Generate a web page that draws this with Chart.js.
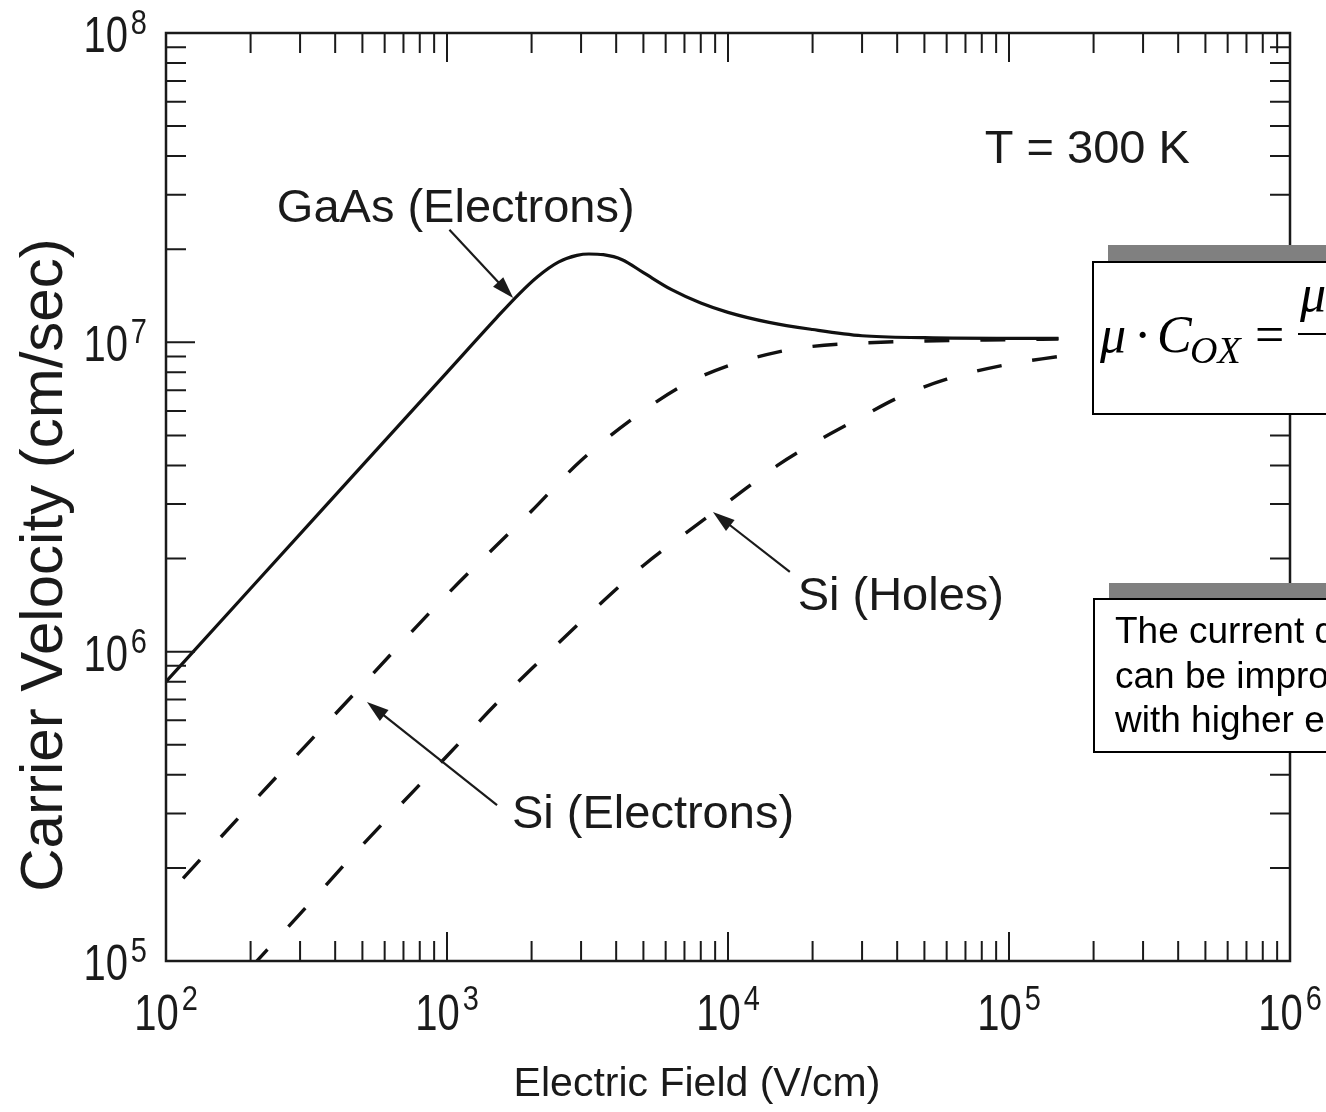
<!DOCTYPE html>
<html>
<head>
<meta charset="utf-8">
<script src="https://cdn.jsdelivr.net/npm/chart.js@4.4.1/dist/chart.umd.min.js"></script>
<style>
html,body{margin:0;padding:0;background:#fff;overflow:hidden;}
#wrap{position:relative;width:1326px;height:1112px;overflow:hidden;}
#chart{position:absolute;left:0;top:0;}
.shadow{position:absolute;background:#808080;}
.box{position:absolute;background:#fff;border:2px solid #000;box-sizing:border-box;overflow:hidden;}
.t{position:absolute;line-height:1;white-space:nowrap;font-family:'Liberation Serif','Times New Roman',serif;color:#000;}
.it{font-style:italic;}
.note{font-family:'Liberation Sans',Arial,Helvetica,sans-serif;font-size:37px;line-height:44.5px;padding:9px 0 0 20px;white-space:nowrap;color:#000;}
</style>
</head>
<body>
<div id="wrap">
  <canvas id="chart" width="1326" height="1112"></canvas>

  <!-- formula box -->
  <div class="shadow" style="left:1108px;top:245px;width:300px;height:154px;"></div>
  <div class="box" style="left:1092px;top:261px;width:300px;height:154px;">
    <span class="t it" style="left:6px;top:46px;font-size:52px;">μ</span>
    <span class="t" style="left:40px;top:46px;font-size:52px;">·</span>
    <span class="t it" style="left:63px;top:46px;font-size:52px;">C</span>
    <span class="t it" style="left:96px;top:68px;font-size:38px;">OX</span>
    <span class="t" style="left:161px;top:46px;font-size:52px;">=</span>
    <span class="t it" style="left:206px;top:5px;font-size:52px;">μ·ε<sub style="font-size:30px">ox</sub></span>
    <div style="position:absolute;left:204px;top:70px;width:200px;height:2px;background:#000;"></div>
    <span class="t it" style="left:240px;top:80px;font-size:52px;">t<sub style="font-size:30px">ox</sub></span>
  </div>

  <!-- text box -->
  <div class="shadow" style="left:1109px;top:583px;width:300px;height:155px;"></div>
  <div class="box" style="left:1093px;top:598px;width:300px;height:155px;">
    <div class="note">The current drive<br>can be improved<br>with higher electron velocity</div>
  </div>
</div>

<script>
// GaAs electrons (solid)
const gaasField=[100,200,500,1000,1500,1800,2100,2500,2900,3200,3600,4200,5000,6300,8000,10000,14000,20000,30000,50000,100000,150000];
const gaasVelocity=[8.0e5,1.6e6,4.0e6,8.0e6,1.2e7,1.43e7,1.63e7,1.82e7,1.91e7,1.93e7,1.92e7,1.85e7,1.68e7,1.48e7,1.34e7,1.25e7,1.16e7,1.10e7,1.05e7,1.035e7,1.03e7,1.03e7];

// Si electrons (dashed)
const siElecField=[115,200,500,1000,2000,3000,5000,7000,10000,15000,20000,30000,50000,100000,150000];
const siElecVelocity=[1.85e5,3.2e5,7.8e5,1.53e6,2.85e6,4.15e6,6.0e6,7.3e6,8.4e6,9.3e6,9.7e6,9.95e6,1.01e7,1.02e7,1.025e7];

// Si holes (dashed)
const siHoleField=[200,300,500,1000,1500,2000,3000,5000,7000,10000,15000,20000,30000,40000,60000,100000,150000];
const siHoleVelocity=[9.5e4,1.42e5,2.37e5,4.6e5,6.8e5,8.8e5,1.25e6,1.9e6,2.4e6,3.05e6,4.0e6,4.7e6,5.75e6,6.6e6,7.6e6,8.5e6,9.0e6];

// tick labels (powers of ten)
const xExponents=['2','3','4','5','6'];
const yExponents=['5','6','7','8'];
const minorSteps=[2,3,4,5,6,7,8,9];

// text labels with arrows, anchored in data units
const labels=[
  {text:'GaAs (Electrons)', x:248, y:2.45e7, from:[1020,2.31e7], to:[1720,1.39e7]},
  {text:'T = 300 K', x:8.2e4, y:3.8e7},
  {text:'Si (Holes)', x:1.77e4, y:1.36e6, from:[1.66e4,1.81e6], to:[8840,2.83e6]},
  {text:'Si (Electrons)', x:1703, y:2.69e5, from:[1507,3.19e5], to:[519,6.88e5]}
];

const INK='#1a1a1a';
const SANS="'Liberation Sans', Arial, Helvetica, sans-serif";

function toPoints(xs,ys){
  return xs.map((x,i)=>({x:x,y:ys[i]}));
}

function stretchText(ctx,txt,x,y,sy){
  ctx.save();
  ctx.translate(x,y);
  ctx.scale(1,sy);
  ctx.fillText(txt,0,0);
  ctx.restore();
}

// draws "10" with a raised exponent
function powLabel(ctx,exp,x,baseY,expY,align){
  ctx.font='40px '+SANS;
  const w1=ctx.measureText('10').width;
  ctx.font='29px '+SANS;
  const w2=ctx.measureText(exp).width;
  const gap=3;
  let left=x;
  if(align=='center') left=x-(w1+gap+w2)/2;
  if(align=='right') left=x-(w1+gap+w2);
  ctx.textAlign='left';
  ctx.font='40px '+SANS;
  stretchText(ctx,'10',left,baseY,1.25);
  ctx.font='29px '+SANS;
  stretchText(ctx,exp,left+w1+gap,expY,1.18);
}

function arrow(ctx,x1,y1,x2,y2){
  const a=Math.atan2(y2-y1,x2-x1);
  const len=22, half=7;
  ctx.beginPath();
  ctx.moveTo(x1,y1);
  ctx.lineTo(x2-Math.cos(a)*len*0.8,y2-Math.sin(a)*len*0.8);
  ctx.stroke();
  ctx.beginPath();
  ctx.moveTo(x2,y2);
  ctx.lineTo(x2-Math.cos(a)*len+Math.sin(a)*half,y2-Math.sin(a)*len-Math.cos(a)*half);
  ctx.lineTo(x2-Math.cos(a)*len-Math.sin(a)*half,y2-Math.sin(a)*len+Math.cos(a)*half);
  ctx.closePath();
  ctx.fill();
}

const frame={
  id:'frame',
  afterDraw(chart){
    const ctx=chart.ctx;
    const xs=chart.scales.x, ys=chart.scales.y;
    const a=chart.chartArea;
    ctx.save();
    ctx.strokeStyle=INK;
    ctx.fillStyle=INK;

    // box
    ctx.lineWidth=2.5;
    ctx.strokeRect(a.left,a.top,a.right-a.left,a.bottom-a.top);

    // inward ticks
    ctx.lineWidth=2;
    ctx.beginPath();
    for(let d=2;d<6;d++){
      minorSteps.forEach(m=>{
        const px=xs.getPixelForValue(m*Math.pow(10,d));
        ctx.moveTo(px,a.bottom);ctx.lineTo(px,a.bottom-20);
        ctx.moveTo(px,a.top);ctx.lineTo(px,a.top+20);
      });
    }
    xExponents.forEach(e=>{
      const px=xs.getPixelForValue(Math.pow(10,+e));
      ctx.moveTo(px,a.bottom);ctx.lineTo(px,a.bottom-29);
      ctx.moveTo(px,a.top);ctx.lineTo(px,a.top+29);
    });
    for(let d=5;d<8;d++){
      minorSteps.forEach(m=>{
        const py=ys.getPixelForValue(m*Math.pow(10,d));
        ctx.moveTo(a.left,py);ctx.lineTo(a.left+20,py);
        ctx.moveTo(a.right,py);ctx.lineTo(a.right-20,py);
      });
    }
    yExponents.forEach(e=>{
      const py=ys.getPixelForValue(Math.pow(10,+e));
      ctx.moveTo(a.left,py);ctx.lineTo(a.left+29,py);
      ctx.moveTo(a.right,py);ctx.lineTo(a.right-29,py);
    });
    ctx.stroke();

    // tick labels
    ctx.textBaseline='alphabetic';
    xExponents.forEach(e=>{
      const px=xs.getPixelForValue(Math.pow(10,+e));
      powLabel(ctx,e,px,a.bottom+69,a.bottom+49,'center');
    });
    yExponents.forEach(e=>{
      const py=ys.getPixelForValue(Math.pow(10,+e));
      powLabel(ctx,e,a.left-19,py+19,py+1,'right');
    });

    // axis titles
    ctx.textAlign='center';
    ctx.font='41px '+SANS;
    ctx.fillText('Electric Field (V/cm)',697,1096);
    ctx.save();
    ctx.translate(62,565);
    ctx.rotate(-Math.PI/2);
    ctx.font='60px '+SANS;
    ctx.fillText('Carrier Velocity (cm/sec)',0,0);
    ctx.restore();

    // curve labels and arrows
    ctx.textAlign='left';
    ctx.font='47px '+SANS;
    ctx.lineWidth=2.2;
    labels.forEach(l=>{
      ctx.fillText(l.text,xs.getPixelForValue(l.x),ys.getPixelForValue(l.y));
      if(l.from){
        arrow(ctx,xs.getPixelForValue(l.from[0]),ys.getPixelForValue(l.from[1]),
                  xs.getPixelForValue(l.to[0]),ys.getPixelForValue(l.to[1]));
      }
    });
    ctx.restore();
  }
};

const ctx=document.getElementById('chart').getContext('2d');
new Chart(ctx,{
  type:'line',
  data:{
    datasets:[
      {label:'GaAs (Electrons)',data:toPoints(gaasField,gaasVelocity),borderColor:'#111',borderWidth:3.2,
       pointRadius:0,cubicInterpolationMode:'monotone',fill:false},
      {label:'Si (Electrons)',data:toPoints(siElecField,siElecVelocity),borderColor:'#111',borderWidth:3.4,
       borderDash:[25,31],pointRadius:0,cubicInterpolationMode:'monotone',fill:false},
      {label:'Si (Holes)',data:toPoints(siHoleField,siHoleVelocity),borderColor:'#111',borderWidth:3.4,
       borderDash:[25,31],pointRadius:0,cubicInterpolationMode:'monotone',fill:false}
    ]
  },
  options:{
    responsive:false,
    animation:false,
    events:[],
    layout:{padding:{left:166,top:33,right:36,bottom:151}},
    plugins:{legend:{display:false},tooltip:{enabled:false}},
    scales:{
      x:{type:'logarithmic',min:100,max:1e6,display:false},
      y:{type:'logarithmic',min:1e5,max:1e8,display:false}
    }
  },
  plugins:[frame]
});
</script>
</body>
</html>
